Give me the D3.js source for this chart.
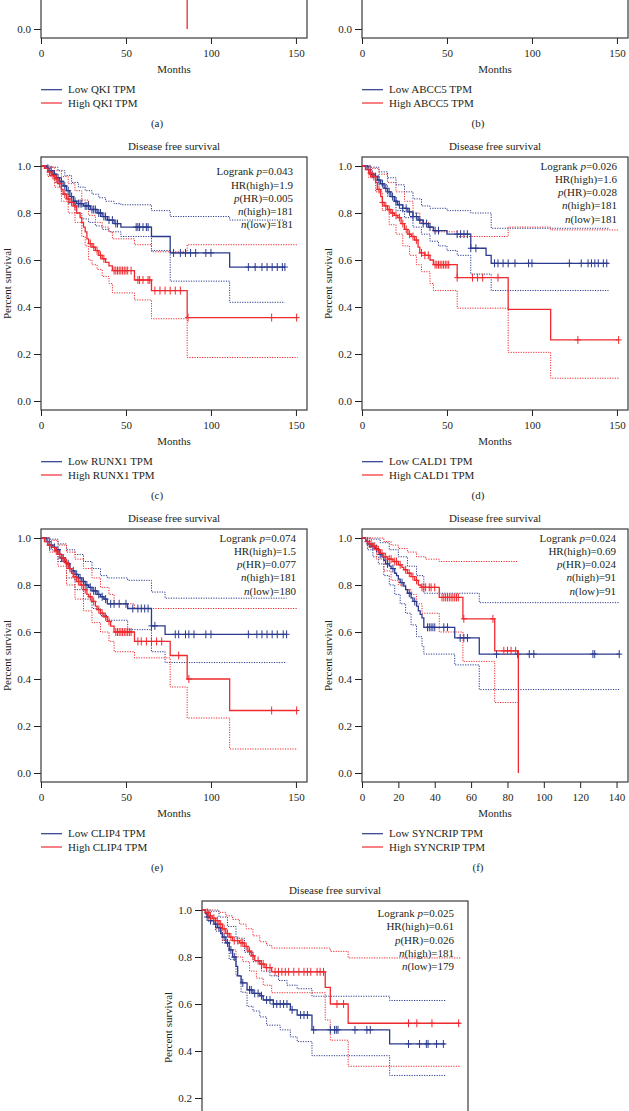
<!DOCTYPE html>
<html><head><meta charset="utf-8">
<script src="https://cdn.jsdelivr.net/npm/d3@7"></script>
<style>
body{margin:0;background:#fff}
svg{display:block}
text{font-family:"Liberation Serif","DejaVu Serif",serif;fill:#231f20}
</style>
</head><body>
<svg id="chart" width="629" height="1111"></svg>
<script>
// ---------------- DATA ----------------
const panelLabels = ["(a)","(b)","(c)","(d)","(e)","(f)","(g)"];
const geneNames = ["QKI","ABCC5","RUNX1","CALD1","CLIP4","SYNCRIP","GENE"];
const xTicks150 = [0,50,100,150];
const xTicks140 = [0,20,40,60,80,100,120,140];
const yTicks = [0,0.2,0.4,0.6,0.8,1.0];
const logrankP = [null,null,"0.043","0.026","0.074","0.024","0.025"];
const hrHigh   = [null,null,"1.9","1.6","1.5","0.69","0.61"];
const pHR      = [null,null,"0.005","0.028","0.077","0.024","0.026"];
const nHigh    = [null,null,181,181,181,91,181];
const nLow     = [null,null,181,181,180,91,179];

// (a) QKI  (only the lowest part is visible)
const qkiLow  = [[0,1],[30,0.8],[60,0.7],[145,0.7]];
const qkiHigh = [[0,1],[30,0.75],[60,0.6],[86,0]];
// (b) ABCC5 (plot body above the visible area)
const abcc5Low  = [[0,1],[50,0.75],[145,0.65]];
const abcc5High = [[0,1],[50,0.65],[150,0.5]];

// (c) RUNX1
const runx1Low = [[0,1],[3,0.99],[5,0.98],[7,0.965],[9,0.95],[11,0.935],[13,0.915],[15,0.895],[17,0.87],[19,0.85],[21,0.84],[25,0.83],[29,0.815],[33,0.8],[36,0.785],[39,0.77],[43,0.755],[47,0.74],[65,0.70],[76,0.63],[111,0.57],[143.5,0.57]];
const runx1LowCens = [4,6,8,10,12,14,16,18,20,22,23,24,26,27,28,30,31,32,34,35,37,38,40,42,44,45,56,57,58,60,62,63,78,82,85,88,91,97,100,122,126,130,133,136,139,142,143.5];
const runx1LowUp = [[0,1],[6,0.995],[10,0.98],[14,0.96],[18,0.93],[22,0.91],[26,0.895],[30,0.88],[34,0.865],[38,0.85],[43,0.84],[47,0.835],[65,0.81],[76,0.785],[111,0.77],[143.5,0.77]];
const runx1LowLo = [[0,1],[4,0.975],[8,0.93],[12,0.88],[16,0.84],[20,0.8],[24,0.775],[28,0.76],[32,0.745],[36,0.73],[40,0.72],[47,0.70],[65,0.64],[76,0.51],[111,0.42],[143.5,0.42]];
const runx1High = [[0,1],[2,0.99],[4,0.975],[6,0.96],[8,0.945],[10,0.925],[12,0.9],[13,0.88],[15,0.86],[17,0.845],[19,0.83],[21,0.8],[23,0.78],[24,0.76],[25,0.74],[26,0.72],[27,0.69],[28,0.67],[30,0.655],[32,0.64],[34,0.62],[36,0.605],[38,0.59],[40,0.575],[42,0.555],[55,0.515],[65,0.47],[86,0.355],[151,0.355]];
const runx1HighCens = [5,7,9,11,14,16,18,20,29,31,33,35,37,43,44,45,46,47,48,49,50,51,53,57,58,60,63,64,67,70,73,76,79,82,86.5,135.7,150.4];
const runx1HighUp = [[0,1],[4,0.995],[8,0.98],[12,0.955],[16,0.925],[20,0.895],[24,0.855],[28,0.79],[32,0.76],[36,0.74],[40,0.72],[42,0.69],[55,0.665],[65,0.635],[86,0.665],[151,0.665]];
const runx1HighLo = [[0,1],[4,0.955],[8,0.91],[12,0.85],[16,0.8],[20,0.76],[24,0.7],[26,0.66],[28,0.6],[30,0.58],[33,0.56],[36,0.53],[40,0.5],[42,0.46],[55,0.43],[65,0.35],[86,0.185],[151,0.185]];

// (d) CALD1
const cald1Low = [[0,1],[3,0.985],[5,0.965],[7,0.955],[9,0.94],[11,0.925],[13,0.905],[15,0.89],[17,0.87],[19,0.85],[21,0.835],[24,0.82],[27,0.805],[30,0.785],[33,0.77],[36,0.755],[39,0.74],[42,0.725],[50,0.71],[64,0.65],[73,0.62],[76,0.586],[145,0.586]];
const cald1LowCens = [4,6,8,10,12,14,16,18,20,22,24,26,28,30,32,34,36,38,40,43,45,56,58,60,62,64,67,78,80,83,86,90,98,100,122,129,133,135,137,139,142,144];
const cald1LowUp = [[0,1],[5,0.995],[10,0.975],[15,0.95],[20,0.92],[25,0.89],[30,0.86],[35,0.83],[40,0.82],[50,0.81],[64,0.80],[76,0.735],[145,0.735]];
const cald1LowLo = [[0,1],[5,0.96],[10,0.92],[15,0.87],[20,0.81],[25,0.78],[30,0.74],[35,0.71],[40,0.68],[45,0.66],[50,0.64],[56,0.62],[64,0.54],[76,0.47],[145,0.47]];
const cald1High = [[0,1],[2,0.985],[4,0.97],[6,0.955],[8,0.93],[9,0.9],[11,0.87],[12,0.845],[13,0.83],[15,0.815],[17,0.8],[19,0.79],[21,0.78],[23,0.755],[25,0.73],[27,0.71],[29,0.7],[31,0.685],[33,0.655],[34,0.63],[37,0.62],[40,0.6],[42,0.58],[56,0.525],[86,0.39],[111,0.26],[151,0.26]];
const cald1HighCens = [5,7,10,12,14,16,18,20,22,24,26,28,30,32,35,37,39,43,44,45,46,47,48,49,50,51,56,65,68,71,80,127,151];
const cald1HighUp = [[0,1],[5,0.99],[10,0.965],[15,0.93],[20,0.89],[25,0.85],[30,0.8],[34,0.76],[40,0.74],[42,0.72],[56,0.70],[86,0.74],[111,0.728],[151,0.728]];
const cald1HighLo = [[0,1],[4,0.95],[8,0.89],[12,0.81],[16,0.75],[20,0.71],[24,0.66],[28,0.62],[32,0.58],[35,0.55],[40,0.5],[42,0.47],[56,0.395],[86,0.207],[111,0.097],[151,0.097]];

// (e) CLIP4
const clip4Low = [[0,1],[3,0.985],[5,0.97],[7,0.96],[9,0.95],[11,0.93],[12,0.915],[14,0.9],[15,0.89],[17,0.87],[18,0.86],[20,0.845],[22,0.83],[24,0.815],[26,0.8],[28,0.79],[30,0.775],[33,0.76],[35,0.75],[37,0.74],[39,0.72],[51,0.70],[65,0.626],[73,0.59],[144.5,0.59]];
const clip4LowCens = [4,6,8,10,12,13,16,19,21,23,25,27,29,31,32,34,36,38,41,43,46,50,54,57,59,61,63,65,67,79,81,85,87,90,97,100,122,127,130,133,136,139,142.5,144.5];
const clip4LowUp = [[0,1],[5,0.995],[10,0.975],[15,0.95],[20,0.93],[25,0.9],[30,0.87],[35,0.84],[39,0.83],[51,0.82],[65,0.77],[73,0.744],[144.5,0.744]];
const clip4LowLo = [[0,1],[5,0.95],[10,0.9],[15,0.83],[20,0.78],[25,0.74],[30,0.7],[35,0.67],[39,0.65],[51,0.61],[65,0.516],[73,0.47],[144.5,0.47]];
const clip4High = [[0,1],[2,0.985],[4,0.97],[6,0.96],[8,0.945],[10,0.93],[12,0.915],[14,0.895],[16,0.87],[18,0.85],[19,0.835],[21,0.815],[23,0.8],[25,0.78],[27,0.76],[28,0.75],[30,0.73],[32,0.71],[33,0.695],[35,0.68],[37,0.665],[39,0.645],[41,0.625],[43,0.6],[55,0.56],[76,0.5],[86,0.40],[111,0.266],[151,0.266]];
const clip4HighCens = [5,9,11,13,15,17,20,22,24,26,29,31,34,36,38,40,44,45,46,47,48,49,50,51,52,53,57,59,62,65,68,71,81,87,135.7,150.4];
const clip4HighUp = [[0,1],[5,0.99],[10,0.97],[15,0.94],[20,0.91],[25,0.87],[30,0.83],[35,0.79],[40,0.76],[43,0.72],[55,0.70],[151,0.70]];
const clip4HighLo = [[0,1],[5,0.94],[10,0.88],[15,0.8],[20,0.74],[25,0.69],[30,0.64],[35,0.6],[40,0.56],[43,0.516],[55,0.49],[76,0.366],[86,0.234],[111,0.102],[151,0.102]];

// (f) SYNCRIP
const syncripLow = [[0,1],[2,0.99],[3,0.975],[5,0.965],[7,0.955],[9,0.94],[10,0.93],[11,0.92],[12,0.905],[13,0.89],[15,0.88],[16,0.87],[18,0.85],[19,0.84],[20,0.825],[21,0.81],[23,0.795],[24,0.78],[25,0.765],[27,0.745],[28,0.73],[30,0.71],[31,0.69],[32,0.675],[33,0.66],[34,0.62],[51,0.575],[64.5,0.506],[141.5,0.506]];
const syncripLowCens = [4,6,8,10,14,17,22,26,29,36,37,38,39,40,45,47,54,56,58,74,85.6,92,94.5,127,128,141.5];
const syncripLowUp = [[0,1],[5,0.995],[10,0.98],[15,0.95],[20,0.92],[25,0.88],[30,0.84],[34,0.765],[64.5,0.725],[141.5,0.725]];
const syncripLowLo = [[0,1],[3,0.95],[6,0.92],[9,0.89],[12,0.84],[15,0.8],[18,0.76],[21,0.72],[24,0.68],[27,0.63],[30,0.58],[33,0.54],[34,0.506],[51,0.46],[64.5,0.355],[141.5,0.355]];
const syncripHigh = [[0,1],[2,0.985],[4,0.975],[6,0.965],[8,0.95],[10,0.935],[12,0.92],[14,0.91],[17,0.9],[20,0.886],[22,0.875],[23,0.865],[25,0.85],[27,0.836],[29,0.82],[31,0.80],[32.5,0.79],[42.5,0.747],[55.5,0.656],[73,0.52],[86,0.0]];
const syncripHighCens = [3,5,7,9,11,13,15,16,18,19,21,24,26,28,30,33,34,35,37,38,40,44,45,46,47,48,49,50,51,52,53,56,72,78,80,82,84.5];
const syncripHighUp = [[0,1],[8,1.0],[12,0.985],[16,0.97],[20,0.955],[25,0.94],[30,0.92],[35,0.91],[42.5,0.9],[86,0.9]];
const syncripHighLo = [[0,1],[4,0.96],[8,0.91],[12,0.86],[16,0.82],[20,0.8],[24,0.78],[27,0.76],[30,0.72],[33,0.68],[42.5,0.6],[55.5,0.475],[73,0.30],[86,0.30]];

// (g)
const gLow = [[0,1],[2,0.985],[3,0.97],[5,0.955],[7,0.94],[9,0.925],[11,0.9],[12,0.885],[14,0.86],[16,0.83],[18,0.8],[20,0.76],[21,0.72],[23,0.69],[26.5,0.66],[30,0.645],[34,0.635],[36,0.617],[42,0.6],[52,0.575],[56,0.553],[64.7,0.49],[110.4,0.43],[143.1,0.43]];
const gLowCens = [3,5,8,10,13,15,17,19,24,28,29,31,33,35,38,40,42,44,46,48,50,53,58,60,62,65.7,75.5,78,79,80,90,97,99,121.5,128,132,133,138,142];
const gLowUp = [[0,1],[5,0.995],[10,0.97],[15,0.93],[20,0.88],[25,0.82],[30,0.78],[35,0.74],[40,0.72],[45,0.7],[50,0.68],[56,0.665],[64.7,0.633],[110.4,0.615],[143.1,0.615]];
const gLowLo = [[0,1],[4,0.95],[8,0.91],[12,0.86],[16,0.79],[20,0.72],[23,0.65],[26.5,0.59],[30,0.57],[34,0.545],[38,0.51],[46,0.49],[52,0.46],[56,0.44],[64.7,0.38],[110.4,0.296],[143.1,0.296]];
const gHigh = [[0,1],[2,0.99],[4,0.975],[6,0.965],[8,0.955],[10,0.94],[12,0.92],[14,0.9],[16,0.885],[18,0.87],[22,0.86],[25,0.845],[27,0.825],[29,0.805],[31,0.785],[34,0.77],[37,0.755],[41,0.737],[72.5,0.671],[75.5,0.60],[86,0.518],[152,0.518]];
const gHighCens = [3,5,7,9,11,13,15,17,19,21,23,24,26,28,30,33,35,36,38,40,43,45,47,49,51,54,57,60,62,64,67.7,69.5,71.5,79.4,83.3,121.5,126.4,135.3,151];
const gHighUp = [[0,1],[6,1.0],[10,0.99],[14,0.975],[18,0.96],[22,0.94],[26,0.92],[30,0.89],[34,0.865],[38,0.85],[41,0.838],[75.5,0.824],[86,0.796],[152,0.796]];
const gHighLo = [[0,1],[4,0.96],[8,0.92],[12,0.87],[16,0.83],[20,0.8],[24,0.78],[28,0.74],[32,0.71],[36,0.68],[41,0.648],[72.5,0.532],[75.5,0.446],[86,0.335],[152,0.335]];

// ---------------- LAYOUT / DRAW ----------------
const BLUE = "#2b3a8e", RED = "#ee2a2f";
const BOX_W = 266, BOX_H = 253, PAGE_H = 1111, FS = 11;
const panels = [
  {left:41,  top:-215, xMax:156.5, ticks:xTicks150, low:qkiLow,  high:qkiHigh},
  {left:362, top:-215, xMax:156.5, ticks:xTicks150, low:abcc5Low, high:abcc5High},
  {left:41,  top:157, xMax:156.5, ticks:xTicks150, sOff:5.7, sRight:14, low:runx1Low, lowC:runx1LowCens, lowU:runx1LowUp, lowL:runx1LowLo, high:runx1High, highC:runx1HighCens, highU:runx1HighUp, highL:runx1HighLo},
  {left:362, top:157, xMax:156.5, ticks:xTicks150, sOff:0, sRight:11, low:cald1Low, lowC:cald1LowCens, lowU:cald1LowUp, lowL:cald1LowLo, high:cald1High, highC:cald1HighCens, highU:cald1HighUp, highL:cald1HighLo},
  {left:41,  top:529, xMax:156.5, ticks:xTicks150, sOff:0, sRight:11, low:clip4Low, lowC:clip4LowCens, lowU:clip4LowUp, lowL:clip4LowLo, high:clip4High, highC:clip4HighCens, highU:clip4HighUp, highL:clip4HighLo},
  {left:362, top:529, xMax:146.3, ticks:xTicks140, sOff:0, sRight:12, low:syncripLow, lowC:syncripLowCens, lowU:syncripLowUp, lowL:syncripLowLo, high:syncripHigh, highC:syncripHighCens, highU:syncripHighUp, highL:syncripHighLo},
  {left:202, top:901, xMax:156.5, ticks:xTicks150, sOff:3.3, sRight:14, low:gLow, lowC:gLowCens, lowU:gLowUp, lowL:gLowLo, high:gHigh, highC:gHighCens, highU:gHighUp, highL:gHighLo}
];

const svg = d3.select("#chart");
const FONT = '"Liberation Serif","DejaVu Serif",serif';
// texts that would fall outside the page are cropped away in the reference, so they are not drawn
function onPage(y){ return y > 4 && y < PAGE_H - 2; }

function survAt(series, t){
  let s = series[0][1];
  for (const p of series){ if (p[0] <= t) s = p[1]; else break; }
  return s;
}
function addText(g, x, y, str, anchor){
  if (!onPage(y)) return null;
  return g.append("text").attr("x",x).attr("y",y).attr("text-anchor",anchor||"start").attr("font-size",FS).text(str);
}

panels.forEach((p,i)=>{
  const g = svg.append("g");
  const x = d3.scaleLinear().domain([0,p.xMax]).range([p.left, p.left+BOX_W]);
  const y = d3.scaleLinear().domain([0,1]).range([p.top+244, p.top+9]);

  // title
  addText(g, p.left+BOX_W/2, p.top-7.5, "Disease free survival", "middle");

  // y axis
  const ya = g.append("g").attr("transform",`translate(${p.left},0)`)
    .call(d3.axisLeft(y).tickValues(yTicks.filter(v=>onPage(y(v)+4))).tickFormat(d3.format(".1f")).tickSize(7).tickPadding(3).tickSizeOuter(0));
  ya.select(".domain").remove();
  ya.attr("font-family",FONT).attr("font-size",FS);
  ya.selectAll("line").attr("stroke","#231f20");
  ya.selectAll("text").attr("fill","#231f20");

  // x axis
  if (onPage(p.top+BOX_H+20)){
    const xa = g.append("g").attr("transform",`translate(0,${p.top+BOX_H})`)
      .call(d3.axisBottom(x).tickValues(p.ticks).tickSize(6).tickPadding(5).tickSizeOuter(0));
    xa.select(".domain").remove();
    xa.attr("font-family",FONT).attr("font-size",FS);
    xa.selectAll("line").attr("stroke","#231f20");
    xa.selectAll("text").attr("fill","#231f20");
  }

  // box
  g.append("rect").attr("x",p.left).attr("y",p.top).attr("width",BOX_W).attr("height",BOX_H)
    .attr("fill","none").attr("stroke","#3a3a3a").attr("stroke-width",1.2);

  // y label
  if (onPage(p.top + 126.5 - 40) && onPage(p.top + 126.5 + 40))
    g.append("text").attr("transform",`translate(${p.left-30},${p.top+126.5}) rotate(-90)`)
      .attr("text-anchor","middle").attr("font-size",FS).text("Percent survival");
  // x label
  addText(g, p.left+BOX_W/2, p.top+287.5, "Months", "middle");

  const line = d3.line().x(d=>x(d[0])).y(d=>y(d[1])).curve(d3.curveStepAfter);
  const curves = g.append("g");
  [["lowU",BLUE],["lowL",BLUE],["highU",RED],["highL",RED]].forEach(([k,c])=>{
    if (!p[k]) return;
    curves.append("path").attr("d",line(p[k])).attr("fill","none").attr("stroke",c)
      .attr("stroke-width",1).attr("stroke-dasharray","1.2,1.3");
  });
  [["low","lowC",BLUE],["high","highC",RED]].forEach(([k,ck,c])=>{
    curves.append("path").attr("d",line(p[k])).attr("fill","none").attr("stroke",c).attr("stroke-width",1.3);
    if (!p[ck]) return;
    p[ck].forEach(t=>{
      const cx = x(t), cy = y(survAt(p[k],t));
      curves.append("line").attr("x1",cx).attr("x2",cx).attr("y1",cy-4).attr("y2",cy+4).attr("stroke",c).attr("stroke-width",1);
      curves.append("line").attr("x1",cx-3).attr("x2",cx+3).attr("y1",cy).attr("y2",cy).attr("stroke",c).attr("stroke-width",1);
    });
  });

  // stats
  if (logrankP[i]){
    const sx = p.left+BOX_W-p.sRight, rows = [
      [["Logrank ",false],["p",true],["="+logrankP[i],false]],
      [["HR(high)="+hrHigh[i],false]],
      [["p",true],["(HR)="+pHR[i],false]],
      [["n",true],["(high)="+nHigh[i],false]],
      [["n",true],["(low)="+nLow[i],false]]
    ];
    rows.forEach((r,j)=>{
      const t = addText(g, sx, y(1)+p.sOff+3.7+j*13.25, "", "end");
      if (t) r.forEach(([s,it])=>t.append("tspan").attr("font-style",it?"italic":"normal").text(s));
    });
  }

  // legend
  [["Low "+geneNames[i]+" TPM",BLUE,304.7],["High "+geneNames[i]+" TPM",RED,318]].forEach(([lab,c,dy])=>{
    if (!onPage(p.top+dy+4)) return;
    g.append("line").attr("x1",p.left).attr("x2",p.left+21).attr("y1",p.top+dy).attr("y2",p.top+dy)
      .attr("stroke",c).attr("stroke-width",1.2);
    addText(g, p.left+27, p.top+dy+3.7, lab);
  });
  // panel label
  addText(g, p.left+116, p.top+341.5, panelLabels[i], "middle");
});
</script>
</body></html>
